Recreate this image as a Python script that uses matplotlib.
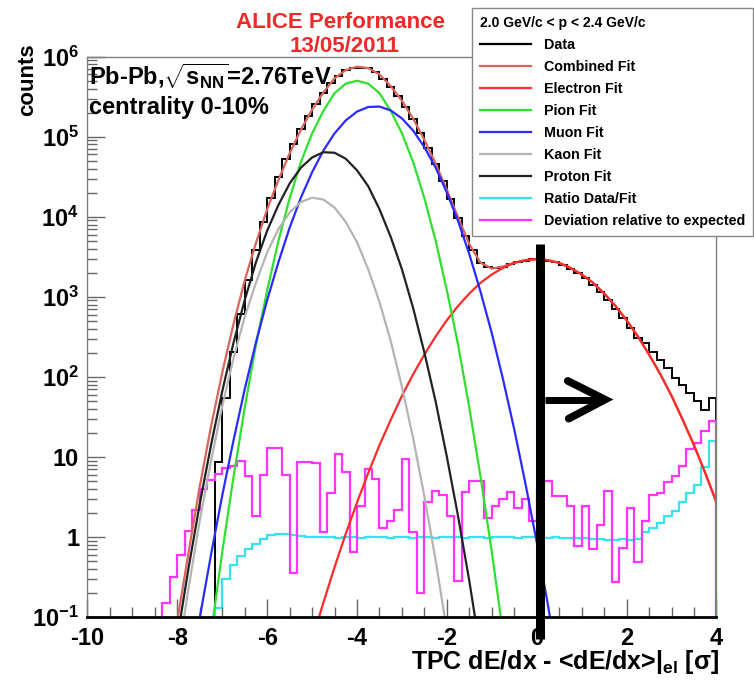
import numpy as np
import matplotlib
matplotlib.use('Agg')
import matplotlib.pyplot as plt
from matplotlib.lines import Line2D
from matplotlib.ticker import MultipleLocator, LogLocator, FixedLocator, NullFormatter

plt.rcParams['font.family'] = ['Liberation Sans', 'DejaVu Sans']
plt.rcParams['font.weight'] = 'bold'
plt.rcParams['mathtext.fontset'] = 'custom'
plt.rcParams['mathtext.rm'] = 'Liberation Sans:bold'
plt.rcParams['mathtext.bf'] = 'Liberation Sans:bold'
plt.rcParams['mathtext.it'] = 'Liberation Sans:bold'

# ---- histograms: 84 bins of 1/6 sigma in [-10, 4] ----
n_bins = 84
edges = np.linspace(-10, 4, n_bins + 1)

data_first = 17
data_counts = [8.7, 54, 206, 609, 1.6e3, 3.87e3, 8.5e3, 1.72e4, 3.16e4, 5.26e4,
               8.2e4, 1.24e5, 1.79e5, 2.54e5, 3.53e5, 4.68e5, 5.68e5, 6.73e5, 7.26e5, 7.25e5,
               7.13e5, 6.37e5, 5.31e5, 4.2e5, 3.21e5, 2.37e5, 1.65e5, 1.11e5, 7.3e4, 4.55e4,
               2.76e4, 1.66e4, 9.7e3, 5.74e3, 3.8e3, 2.63e3, 2.33e3, 2.28e3, 2.39e3, 2.55e3,
               2.69e3, 2.84e3, 2.94e3, 2.91e3, 2.81e3, 2.71e3, 2.49e3, 2.24e3, 2.0e3, 1.7e3,
               1.42e3, 1.14e3, 907, 711, 551, 403, 306, 263, 207, 162,
               128, 97, 78, 63, 50, 38, 55]

ratio_first = 17
ratio_vals = [0.13, 0.3, 0.45, 0.58, 0.7, 0.82, 0.95, 1.05, 1.1, 1.1,
              1.06, 1.02, 1.0, 0.99, 0.99, 1.0, 0.98, 0.99, 1.0, 0.98,
              0.99, 1.0, 0.99, 0.98, 0.99, 1.0, 0.98, 0.99, 1.0, 0.98,
              0.99, 1.0, 0.99, 0.98, 1.0, 0.99, 0.98, 0.99, 1.0, 0.99,
              0.98, 0.99, 1.0, 0.99, 0.98, 0.99, 0.98, 0.97, 0.98, 0.96,
              0.95, 0.93, 0.92, 0.92, 0.93, 0.91, 0.95, 1.15, 1.3, 1.5,
              1.8, 2.1, 2.7, 3.5, 4.5, 7.5, 16]

dev_first = 10
dev_vals = [0.15, 0.32, 0.6, 1.2, 2.2, 4, 5.2, 6.2, 7.2, 7.7,
            9, 5.8, 1.8, 6, 13, 13, 6, 0.35, 8.7, 8.7,
            8.3, 1.15, 3.5, 11, 6.5, 0.65, 2.4, 7, 5.3, 1.3,
            1.6, 2.2, 9.4, 1.15, 0.2, 2.7, 3.7, 3.3, 1.8, 0.28,
            3.6, 5, 5, 1.7, 2.4, 3.0, 3.6, 2.3, 3.0, 1.6,
            4, 5, 3.2, 3.2, 2.4, 0.78, 2.4, 0.7, 1.4, 3.8,
            0.27, 0.73, 2.3, 0.49, 1.6, 3.3, 3.5, 4.9, 5.8, 7.7,
            12.6, 15, 21, 28]

# ---- fit curves, sampled every 0.25 sigma ----
pion_range = (-7.25, -0.75)
pion = [0.062, 0.65, 5.6, 41, 250, 1.2e3, 5.0e3, 1.7e4, 4.8e4, 1.1e5, 2.1e5, 3.5e5, 4.6e5, 5.0e5,
        4.6e5, 3.5e5, 2.1e5, 1.1e5, 4.8e4, 1.7e4, 5.0e3, 1.2e3, 250, 41, 5.6, 0.65, 0.062]

muon_range = (-7.5, 0.5)
muon = [0.098, 0.60, 3.3, 16, 70, 270, 910, 2.7e3, 7.3e3, 1.73e4, 3.6e4, 6.7e4, 1.1e5, 1.6e5,
        2.06e5, 2.35e5, 2.38e5, 2.13e5, 1.69e5, 1.19e5, 7.4e4, 4.1e4, 2.0e4, 8.8e3, 3.4e3, 1.15e3,
        350, 93, 22, 4.6, 0.86, 0.14, 0.021]

kaon_range = (-8.0, -2.0)
kaon = [0.028, 0.23, 1.6, 8.9, 43, 170, 560, 1.5e3, 3.6e3, 7.0e3, 1.13e4, 1.53e4, 1.73e4, 1.64e4,
        1.3e4, 8.6e3, 4.8e3, 2.2e3, 860, 280, 75, 17, 3.2, 0.51, 0.067]

proton_range = (-8.0, -1.25)
proton = [0.055, 0.41, 2.6, 14, 66, 265, 910, 2.7e3, 6.7e3, 1.4e4, 2.6e4, 4.1e4, 5.5e4, 6.4e4,
          6.3e4, 5.3e4, 3.8e4, 2.4e4, 1.24e4, 5.6e3, 2.2e3, 720, 200, 49, 10, 1.8, 0.28, 0.036]

electron_range = (-5.0, 4.0)
electron = [0.052, 0.15, 0.42, 1.1, 2.7, 6.3, 14, 29, 58, 108, 190, 320, 510, 770, 1.1e3, 1.5e3,
            1.9e3, 2.3e3, 2.65e3, 2.87e3, 2.95e3, 2.87e3, 2.65e3, 2.3e3, 1.9e3, 1.5e3, 1.1e3, 770,
            510, 320, 190, 108, 58, 29, 14, 6.3, 2.7]

combined_range = (-8.0, 4.0)
combined = [0.09, 0.64, 4.3, 24, 113, 457, 1.6e3, 4.7e3, 1.24e4, 2.87e4, 6.2e4, 1.22e5, 2.18e5,
            3.57e5, 5.36e5, 6.8e5, 7.5e5, 7.2e5, 6.0e5, 4.29e5, 2.81e5, 1.68e5, 9.1e4, 4.6e4,
            2.17e4, 9.8e3, 4.54e3, 2.66e3, 2.25e3, 2.39e3, 2.67e3, 2.87e3, 2.95e3, 2.87e3, 2.65e3,
            2.3e3, 1.9e3, 1.5e3, 1.1e3, 770, 510, 320, 190, 108, 58, 29, 14, 6.3, 2.7]

labels = ['Data', 'Combined Fit', 'Electron Fit', 'Pion Fit', 'Muon Fit', 'Kaon Fit',
          'Proton Fit', 'Ratio Data/Fit', 'Deviation relative to expected']
colors = ['black', '#d8645c', '#ff2a2a', '#2fe02f', '#2b2bff', '#b4b4b4',
          '#222222', '#33e6ee', '#ff33ff']


def grid(rng, vals):
    return np.linspace(rng[0], rng[1], len(vals))


def hist_edges(first, vals):
    return edges[first:first + len(vals) + 1]


fig = plt.figure(figsize=(7.54, 6.85), dpi=100)
ax = fig.add_axes([0.116, 0.0993, 0.8342, 0.818])
lw = 1.6

ax.stairs(data_counts, hist_edges(data_first, data_counts), baseline=0.01,
          color=colors[0], lw=1.4)
ax.plot(grid(combined_range, combined), combined, color=colors[1], lw=lw)
ax.plot(grid(electron_range, electron), electron, color=colors[2], lw=lw)
ax.plot(grid(pion_range, pion), pion, color=colors[3], lw=lw)
ax.plot(grid(muon_range, muon), muon, color=colors[4], lw=lw)
ax.plot(grid(kaon_range, kaon), kaon, color=colors[5], lw=lw)
ax.plot(grid(proton_range, proton), proton, color=colors[6], lw=lw)
ax.stairs(ratio_vals, hist_edges(ratio_first, ratio_vals), baseline=0.01,
          color=colors[7], lw=lw)
ax.stairs(dev_vals, hist_edges(dev_first, dev_vals), baseline=0.01,
          color=colors[8], lw=lw)

ax.set_yscale('log')
ax.set_xlim(-10, 4)
ax.set_ylim(0.1, 1e6)

ax.xaxis.set_major_locator(FixedLocator(np.arange(-10, 5, 2)))
ax.xaxis.set_minor_locator(MultipleLocator(0.5))
ax.set_xticklabels(['-10', '-8', '-6', '-4', '-2', '0', '2', '4'])
ax.yaxis.set_major_locator(FixedLocator([0.1, 1, 10, 1e2, 1e3, 1e4, 1e5, 1e6]))
ax.yaxis.set_minor_locator(LogLocator(base=10, subs=np.arange(2, 10)))
ax.yaxis.set_minor_formatter(NullFormatter())
ax.set_yticklabels(['$\\mathbf{10^{-1}}$', '1', '10', '$\\mathbf{10^{2}}$',
                    '$\\mathbf{10^{3}}$', '$\\mathbf{10^{4}}$', '$\\mathbf{10^{5}}$',
                    '$\\mathbf{10^{6}}$'])
ax.tick_params(which='both', direction='in', top=False, right=False,
               color='#666666', width=1, labelsize=17)
ax.tick_params(which='major', length=13)
ax.tick_params(which='minor', length=7)
ax.tick_params(axis='y', pad=6)
ax.tick_params(axis='x', pad=7)
for s in ['top', 'right', 'left']:
    ax.spines[s].set_color('#808080')
    ax.spines[s].set_linewidth(1)
ax.spines['bottom'].set_color('black')
ax.spines['bottom'].set_linewidth(2)

# cut line and arrow drawn over the plot
ax.plot([0.08, 0.08], [4.6e3, 0.053], color='black', lw=6.5,
        solid_capstyle='butt', clip_on=False)
ax.plot([0.19, 1.45], [52, 52], color='black', lw=5, solid_capstyle='butt', clip_on=False)
ax.plot([0.69, 1.52, 0.71], [89, 52, 30], color='black', lw=5.5,
        solid_capstyle='round', solid_joinstyle='miter', clip_on=False)

# texts
ax.text(0.003, 0.964, 'Pb-Pb,$\\sqrt{\\mathbf{s}_{\\mathbf{NN}}}$=2.76TeV',
        transform=ax.transAxes, fontsize=17, ha='left', va='center')
ax.text(0.003, 0.91, 'centrality 0-10%', transform=ax.transAxes,
        fontsize=17, ha='left', va='center')
fig.text(340 / 754, 1 - 22 / 685, 'ALICE Performance', color='#f02828',
         fontsize=16, ha='center', va='center')
fig.text(345 / 754, 1 - 47 / 685, '13/05/2011', color='#f02828',
         fontsize=16, ha='center', va='center')
fig.text(28 / 754, 1 - 80 / 685, 'counts', rotation=90, fontsize=16,
         ha='center', va='center')
fig.text(719 / 754, 1 - 662 / 685, 'TPC dE/dx - <dE/dx>$|_{\\mathbf{el}}$ [σ]',
         fontsize=18, ha='right', va='center')

handles = [Line2D([], [], color=c, lw=lw) for c in colors]
leg = fig.legend(handles, labels, loc='upper left',
                 bbox_to_anchor=(472 / 754, 1 - 8 / 685),
                 title='2.0 GeV/c < p < 2.4 GeV/c', alignment='left',
                 fontsize=10.3, title_fontsize=10, frameon=True, fancybox=False,
                 edgecolor='#888888', framealpha=1, borderpad=0.55,
                 handlelength=3.6, handletextpad=0.85, labelspacing=0.56,
                 borderaxespad=0)
leg.get_frame().set_linewidth(1)
leg.get_title().set_fontweight('bold')

fig.savefig('out.png', dpi=100)
